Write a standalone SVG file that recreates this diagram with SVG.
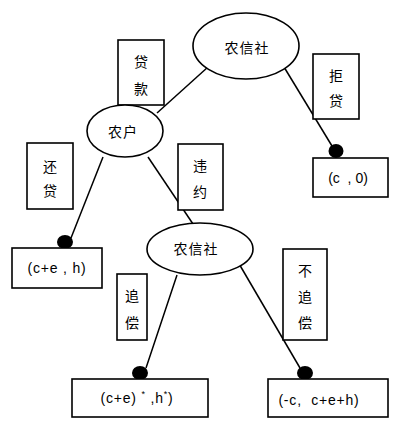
<svg xmlns="http://www.w3.org/2000/svg" width="400" height="434" viewBox="0 0 400 434">
<style>
.ln{stroke:#000;stroke-width:1.5;fill:none}
.nd{fill:#fff;stroke:#000;stroke-width:1.6}
.dot{fill:#000}
.cjk{font-family:"Noto Sans CJK SC","Noto Sans CJK JP",sans-serif;font-size:14px;fill:#000;text-anchor:middle;dominant-baseline:central}
.lat{font-family:"Liberation Sans",Arial,sans-serif;font-size:14px;fill:#000;text-anchor:middle;dominant-baseline:central}
</style>
<rect width="400" height="434" fill="#fff"/>
<g id="connectors">
<line class="ln" x1="208" y1="67" x2="157" y2="113"/>
<line class="ln" x1="284" y1="67" x2="332" y2="146"/>
<line class="ln" x1="103" y1="157" x2="71" y2="238"/>
<line class="ln" x1="148" y1="157" x2="193" y2="224"/>
<line class="ln" x1="177" y1="275" x2="146" y2="368"/>
<line class="ln" x1="238" y1="262" x2="300" y2="368"/>
<ellipse class="dot" cx="336" cy="151" rx="7.5" ry="7"/>
<ellipse class="dot" cx="65" cy="242" rx="8" ry="7"/>
<ellipse class="dot" cx="140" cy="373" rx="8" ry="7"/>
<ellipse class="dot" cx="305" cy="373" rx="8" ry="7"/>
</g>
<g id="label-daikuan">
<rect class="nd" x="118" y="40" width="46" height="65"/>
<text class="cjk" x="141" y="61">贷</text>
<text class="cjk" x="141" y="88">款</text>
</g>
<g id="label-judai">
<rect class="nd" x="313" y="54" width="46" height="65"/>
<text class="cjk" x="336" y="75">拒</text>
<text class="cjk" x="336" y="100">贷</text>
</g>
<g id="label-huandai">
<rect class="nd" x="27" y="143" width="46" height="66"/>
<text class="cjk" x="50" y="166">还</text>
<text class="cjk" x="50" y="190">贷</text>
</g>
<g id="label-weiyue">
<rect class="nd" x="178" y="144" width="45" height="66"/>
<text class="cjk" x="200" y="165">违</text>
<text class="cjk" x="200" y="191">约</text>
</g>
<g id="label-zhuichang">
<rect class="nd" x="117" y="274" width="30" height="66"/>
<text class="cjk" x="132" y="295">追</text>
<text class="cjk" x="132" y="322">偿</text>
</g>
<g id="label-buzhuichang">
<rect class="nd" x="283" y="249" width="44" height="91"/>
<text class="cjk" x="305" y="270">不</text>
<text class="cjk" x="305" y="296">追</text>
<text class="cjk" x="305" y="322">偿</text>
</g>
<g id="node-xinyongshe1">
<ellipse class="nd" cx="246" cy="46" rx="53" ry="33"/>
<text class="cjk" x="247" y="47" letter-spacing="1">农信社</text>
</g>
<g id="node-nonghu">
<ellipse class="nd" cx="125" cy="131" rx="38" ry="26"/>
<text class="cjk" x="123" y="131" letter-spacing="1">农户</text>
</g>
<g id="node-xinyongshe2">
<ellipse class="nd" cx="200" cy="249" rx="53" ry="26"/>
<text class="cjk" x="196" y="248" letter-spacing="1">农信社</text>
</g>
<g id="payoff-c0">
<rect class="nd" x="313" y="158" width="75" height="39"/>
<text class="lat" x="348" y="178" xml:space="preserve">(c  , 0)</text>
</g>
<g id="payoff-ceh">
<rect class="nd" x="12" y="248" width="90" height="40"/>
<text class="lat" x="57" y="268" xml:space="preserve" letter-spacing="0.8">(c+e , h)</text>
</g>
<g id="payoff-chase">
<rect class="nd" x="72" y="379" width="136" height="38"/>
<text class="lat" x="137" y="398" xml:space="preserve" letter-spacing="0.8">(c+e) <tspan font-size="9" dy="-4">*</tspan><tspan dy="4"> ,h</tspan><tspan font-size="9" dy="-4">*</tspan><tspan dy="4">)</tspan></text>
</g>
<g id="payoff-nochase">
<rect class="nd" x="268" y="379" width="120" height="38"/>
<text class="lat" x="319" y="400" xml:space="preserve" letter-spacing="0.8">(-c,  c+e+h)</text>
</g>
</svg>
